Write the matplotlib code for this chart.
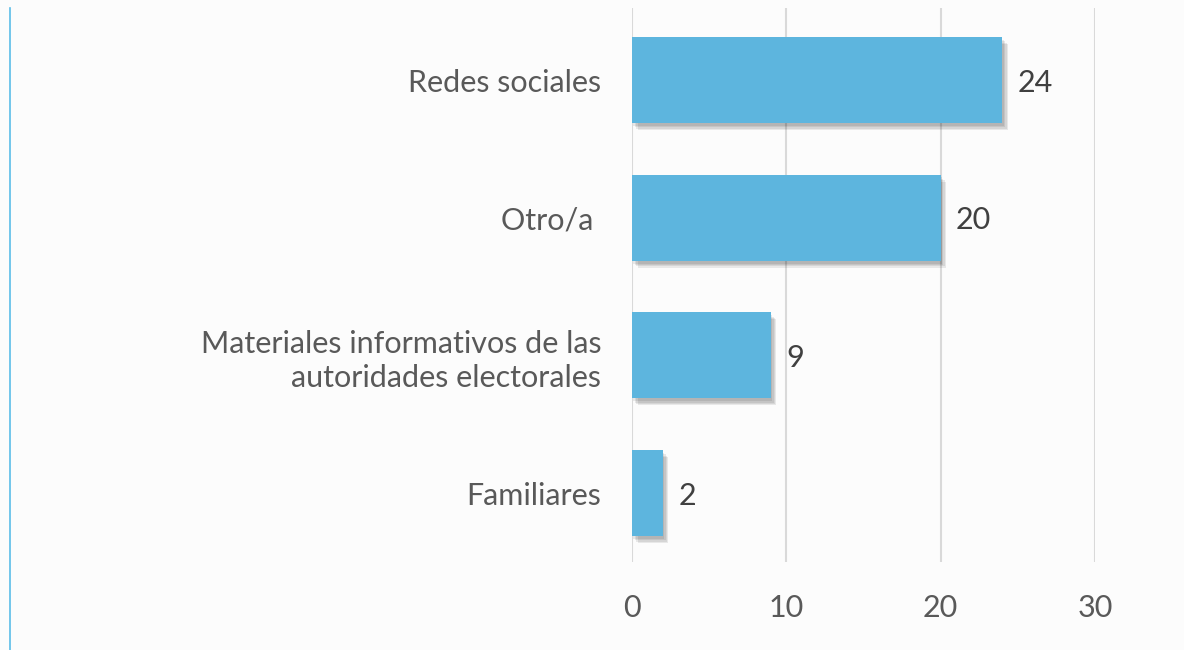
import matplotlib.pyplot as plt
import matplotlib.patheffects as pe
from matplotlib.lines import Line2D

# datos
categorias = ['Redes sociales', 'Otro/a ', 'Materiales informativos de las\nautoridades electorales', 'Familiares']
valores = [24, 20, 9, 2]
ticks = [0, 10, 20, 30]

plt.rcParams['font.family'] = ['Lato', 'DejaVu Sans']

fig = plt.figure(figsize=(11.84, 6.5), dpi=100)
fig.patch.set_facecolor('#fcfcfc')
ax = fig.add_axes([632/1184, 1 - 562/650, (1095 - 632)/1184, 554/650])
ax.set_facecolor('#fcfcfc')

pos = list(range(len(categorias)))
barras = ax.barh(pos, valores, height=0.625, color='#5db5de', zorder=3)
# sombra difusa hacia abajo a la derecha
sombra = [pe.SimplePatchShadow(offset=(o, -o - 1), shadow_rgbFace='#000000', alpha=0.08) for o in (1, 2, 3, 4)]
for b in barras:
    b.set_path_effects(sombra + [pe.Normal()])

for p, v in zip(pos, valores):
    ax.text(v + 1.0, p + 0.02, str(v), va='center', ha='left', fontsize=22, color='#404040')

ax.set_yticks(pos)
ax.set_yticklabels(categorias, fontsize=22, color='#595959', ha='right', linespacing=1.25)
ax.set_ylim(3.5, -0.523)
ax.set_xlim(0, 30)
ax.set_xticks(ticks)
ax.set_xticklabels([str(t) for t in ticks], fontsize=22, color='#595959')
ax.tick_params(axis='y', length=0, pad=22)
ax.tick_params(axis='x', length=0, pad=23)
ax.xaxis.grid(True, color='#d9d9d9', linewidth=1.5, zorder=0)
for s in ax.spines.values():
    s.set_visible(False)

# linea vertical azul a la izquierda
fig.add_artist(Line2D([10/1184, 10/1184], [0, 1 - 8/650], color='#5bbde8', linewidth=1.2))

fig.savefig('out.png', dpi=100, facecolor=fig.get_facecolor())
